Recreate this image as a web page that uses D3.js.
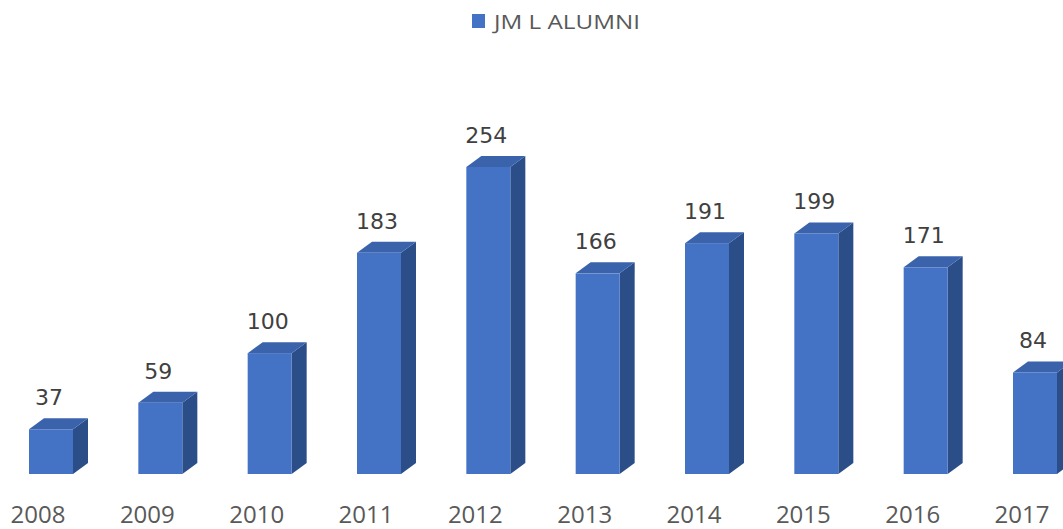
<!DOCTYPE html>
<html>
<head>
<meta charset="utf-8">
<script src="https://cdn.jsdelivr.net/npm/d3@7"></script>
<style>
body{margin:0;background:#fff;}
</style>
</head>
<body>
<script>
// data
const years=["2008","2009","2010","2011","2012","2013","2014","2015","2016","2017"];
const alumni=[37,59,100,183,254,166,191,199,171,84];
const seriesName="JM L ALUMNI";

//constants
const w=1063;
const h=529;
const barW=44;
const dx=15;
const dy=-11;

const svg=d3.select("body")
            .append("svg")
            .attr("width",w)
            .attr("height",h)

const x=d3.scalePoint().domain(years).range([51,1035])
const y=d3.scaleLinear().domain([0,254]).range([474,167])

const rows=years.map((yr,i)=>({year:yr,value:alumni[i]}))

const bars=svg.selectAll("g.bar")
        .data(rows)
        .enter()
        .append("g")
        .attr("class","bar")

// side face
bars.append("path")
        .attr("fill","#2B4D88")
        .attr("d",d=>{
            const x1=x(d.year)+barW/2, y0=y(0), y1=y(d.value)
            return `M${x1},${y0}L${x1+dx},${y0+dy}L${x1+dx},${y1+dy}L${x1},${y1}Z`
        })
// top face
bars.append("path")
        .attr("fill","#3A63AC")
        .attr("d",d=>{
            const x0=x(d.year)-barW/2, x1=x0+barW, y1=y(d.value)
            return `M${x0},${y1}L${x0+dx},${y1+dy}L${x1+dx},${y1+dy}L${x1},${y1}Z`
        })
// front face
bars.append("rect")
        .attr("fill","#4472C4")
        .attr("x",d=>x(d.year)-barW/2)
        .attr("y",d=>y(d.value))
        .attr("width",barW)
        .attr("height",d=>y(0)-y(d.value))

// value labels
bars.append("text")
        .attr("x",d=>x(d.year)-2)
        .attr("y",d=>y(d.value)-24)
        .attr("text-anchor","middle")
        .attr("font-family","DejaVu Sans")
        .attr("font-size",22)
        .attr("fill","#404040")
        .text(d=>d.value)

// category labels
svg.append("g")
        .selectAll("text")
        .data(years)
        .enter()
        .append("text")
        .attr("x",d=>x(d)-13)
        .attr("y",523)
        .attr("text-anchor","middle")
        .attr("font-family","Open Sans")
        .attr("font-size",24)
        .attr("fill","#595959")
        .text(d=>d)

// legend
const legend=svg.append("g")
legend.append("rect")
        .attr("x",472)
        .attr("y",14)
        .attr("width",13)
        .attr("height",14)
        .attr("fill","#4472C4")
legend.append("text")
        .attr("x",494)
        .attr("y",29)
        .attr("font-family","Open Sans")
        .attr("font-size",20)
        .attr("fill","#595959")
        .attr("textLength",146)
        .attr("lengthAdjust","spacingAndGlyphs")
        .text(seriesName)
</script>
</body>
</html>
